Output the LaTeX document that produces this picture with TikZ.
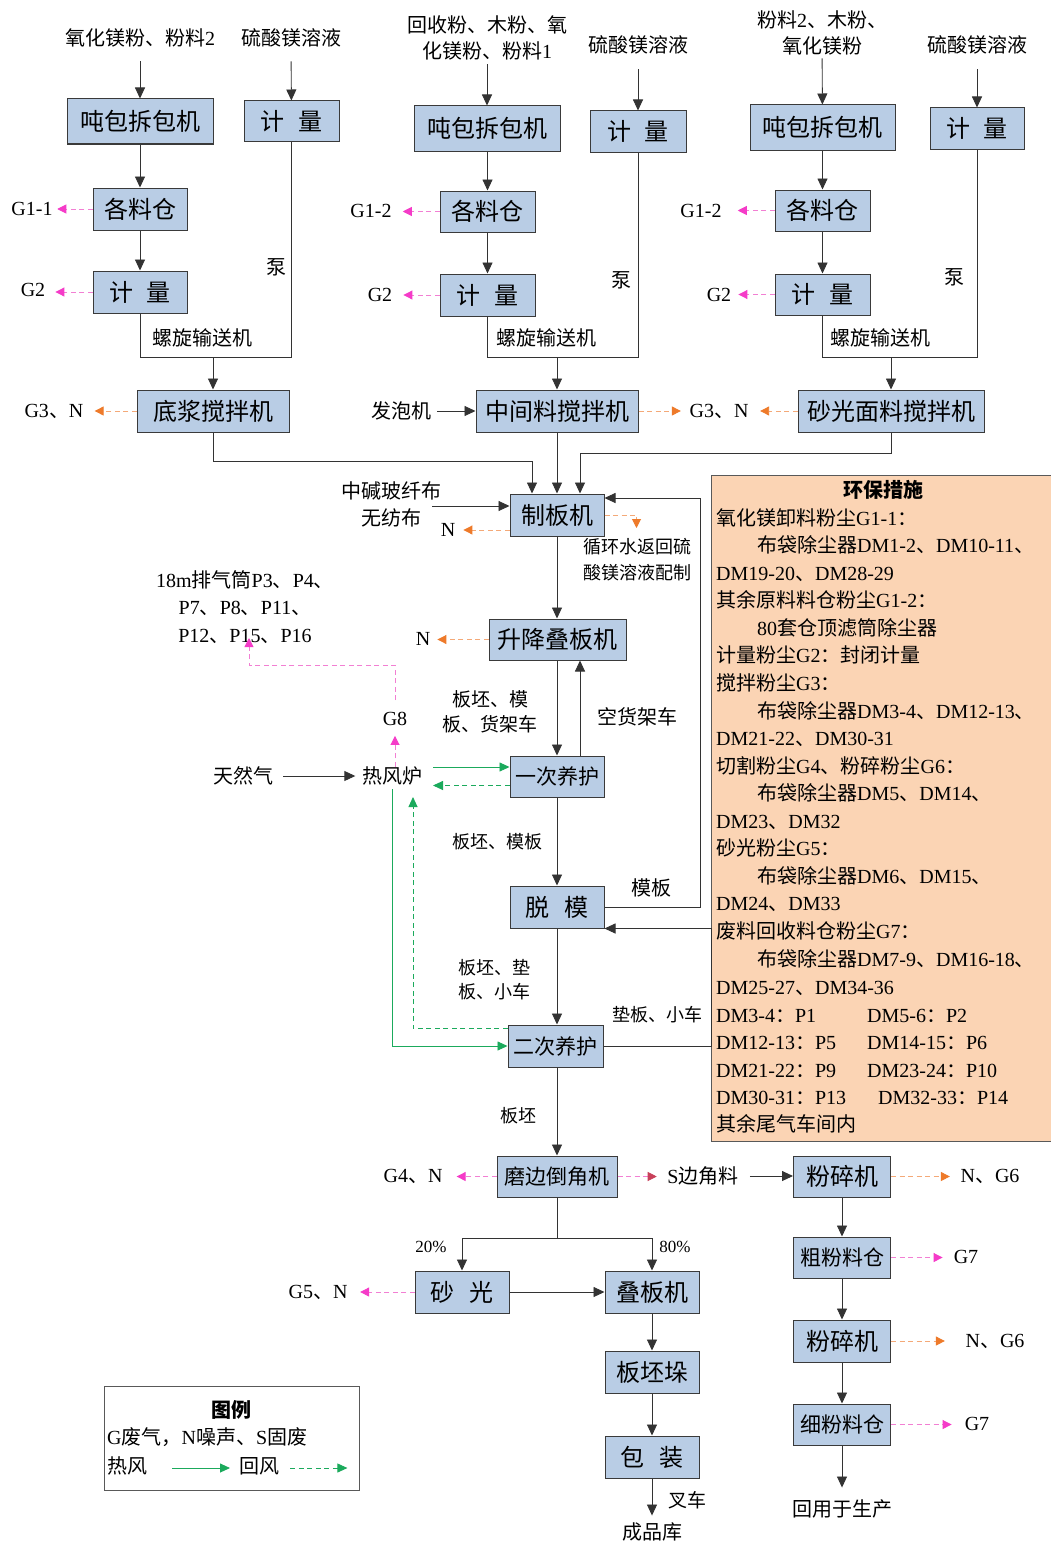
\documentclass[tikz,border=0pt]{standalone}
\usepackage{fontspec}
\setmainfont{Liberation Serif}
\newfontfamily\cjk{Noto Sans CJK SC}
\XeTeXinterchartokenstate=1
\newXeTeXintercharclass\CJKcls
\newcount\cjkn
\def\setcjkrange#1#2{\cjkn=#1\relax\loop\XeTeXcharclass\cjkn=\CJKcls\advance\cjkn by 1\relax\ifnum\cjkn<#2\repeat}
\setcjkrange{"3000}{"3040}
\setcjkrange{"4E00}{"A000}
\setcjkrange{"FF00}{"FFF0}
\XeTeXinterchartoks 0 \CJKcls = {\cjk}
\XeTeXinterchartoks 4095 \CJKcls = {\cjk}
\XeTeXinterchartoks \CJKcls 0 = {\rmfamily}
\XeTeXinterchartoks \CJKcls 4095 = {\rmfamily}
\usetikzlibrary{arrows.meta}
\definecolor{boxfill}{HTML}{B9CDE5}
\definecolor{boxline}{HTML}{3A3A3A}
\definecolor{peach}{HTML}{FBD4B4}
\definecolor{magL}{HTML}{F27FD3}
\definecolor{magH}{HTML}{F53BC8}
\definecolor{orL}{HTML}{F4A978}
\definecolor{orH}{HTML}{EE7A2A}
\definecolor{grn}{HTML}{1BAA5C}
\definecolor{redH}{HTML}{C8405A}
\begin{document}
\begin{tikzpicture}[x=1pt,y=-1pt,
 box/.style={draw=boxline,fill=boxfill,line width=1pt,inner sep=0pt,font=\fontsize{24}{28}\selectfont},
 bs/.style={box,font=\fontsize{21}{25}\selectfont},
 lab/.style={inner sep=0pt,font=\fontsize{20}{26}\selectfont,align=center},
 sl/.style={inner sep=0pt,font=\fontsize{18}{24}\selectfont,align=center},
 pl/.style={anchor=base west,inner sep=0pt,font=\fontsize{20}{24}\selectfont},
 ln/.style={draw=black!80,line width=0.9pt},
 arr/.style={ln,-{Triangle[length=11pt,width=10pt]}},
 mg/.style={draw=magL,line width=0.9pt,dash pattern=on 5pt off 3.5pt,-{Triangle[length=9pt,width=9pt,color=magH]}},
 og/.style={draw=orL,line width=0.9pt,dash pattern=on 5pt off 3.5pt,-{Triangle[length=9pt,width=9pt,color=orH]}},
 rd/.style={draw=magL,line width=0.9pt,dash pattern=on 5pt off 3.5pt,-{Triangle[length=9pt,width=9pt,color=redH]}},
 gs/.style={draw=grn,line width=0.9pt,-{Triangle[length=10pt,width=9pt,color=grn]}},
 gd/.style={gs,dash pattern=on 5pt off 3.5pt},
]
\fill[white] (0,0) rectangle (1051,1544);
\useasboundingbox (0,0) rectangle (1051,1544);

% ---------- right panel ----------
\draw[draw=gray!70!black,line width=1pt,fill=peach] (711,475) rectangle (1060,1141);
\node[lab,font=\bfseries\fontsize{20}{24}\selectfont] (rt) at (883,490) {环保措施};
\node[pl] (r1) at (716,525) {氧化镁卸料粉尘G1-1：};
\node[pl] (r2) at (757,552) {布袋除尘器DM1-2、DM10-11、};
\node[pl] (r3) at (716,580) {DM19-20、DM28-29};
\node[pl] (r4) at (716,607) {其余原料料仓粉尘G1-2：};
\node[pl] (r5) at (757,635) {80套仓顶滤筒除尘器};
\node[pl] (r6) at (716,662) {计量粉尘G2：封闭计量};
\node[pl] (r7) at (716,690) {搅拌粉尘G3：};
\node[pl] (r8) at (757,718) {布袋除尘器DM3-4、DM12-13、};
\node[pl] (r9) at (716,745) {DM21-22、DM30-31};
\node[pl] (r10) at (716,773) {切割粉尘G4、粉碎粉尘G6：};
\node[pl] (r11) at (757,800) {布袋除尘器DM5、DM14、};
\node[pl] (r12) at (716,828) {DM23、DM32};
\node[pl] (r13) at (716,855) {砂光粉尘G5：};
\node[pl] (r14) at (757,883) {布袋除尘器DM6、DM15、};
\node[pl] (r15) at (716,910) {DM24、DM33};
\node[pl] (r16) at (716,938) {废料回收料仓粉尘G7：};
\node[pl] (r17) at (757,966) {布袋除尘器DM7-9、DM16-18、};
\node[pl] (r18) at (716,994) {DM25-27、DM34-36};
\node[pl] (r19) at (716,1022) {DM3-4：P1};
\node[pl] (r19b) at (867,1022) {DM5-6：P2};
\node[pl] (r20) at (716,1049) {DM12-13：P5};
\node[pl] (r20b) at (867,1049) {DM14-15：P6};
\node[pl] (r21) at (716,1077) {DM21-22：P9};
\node[pl] (r21b) at (867,1077) {DM23-24：P10};
\node[pl] (r22) at (716,1104) {DM30-31：P13};
\node[pl] (r22b) at (878,1104) {DM32-33：P14};
\node[pl] (r23) at (716,1131) {其余尾气车间内};

\coordinate (y357) at (0,357);
% ---------- column 1 ----------
\node[lab] (t1) at (140,38) {氧化镁粉、粉料2};
\node[lab] (s1) at (291,38) {硫酸镁溶液};
\node[box,minimum width=146pt,minimum height=45pt] (b1) at (140,121.5) {吨包拆包机};
\node[box,minimum width=95pt,minimum height=41pt] (m1) at (291.5,121.5) {计\hspace{0.55em}量};
\node[box,minimum width=94pt,minimum height=42pt] (c1) at (140,209) {各料仓};
\node[box,minimum width=94pt,minimum height=42pt] (q1) at (140,292) {计\hspace{0.55em}量};
\node[box,minimum width=152pt,minimum height=42pt] (x1) at (213,411) {底浆搅拌机};
\node[lab] (g11) at (32,209) {G1-1};
\node[lab] (g21) at (33,290) {G2};
\node[lab] (g31) at (54,411) {G3、N};
\node[lab] (l1) at (202,338) {螺旋输送机};
\node[lab] (p1) at (276,267) {泵};
\draw[arr,shorten <=14pt] (t1) -- (b1);
\draw[arr,shorten <=14pt] (s1) -- (m1);
\draw[arr] (b1) -- (c1);
\draw[arr] (c1) -- (q1);
\draw[ln] (q1.south) |- (m1.south |- y357) -- (m1.south);
\draw[arr] (x1.north |- y357) -- (x1.north);
\draw[mg,shorten >=4.5pt] (c1.west) -- (c1.west -| g11.east);
\draw[mg,shorten >=10pt] (q1.west) -- (q1.west -| g21.east);
\draw[og,shorten >=11pt] (x1.west) -- (x1.west -| g31.east);

% ---------- column 2 ----------
\node[lab] (t2) at (487,38) {回收粉、木粉、氧\\化镁粉、粉料1};
\node[lab] (s2) at (638,45) {硫酸镁溶液};
\node[box,minimum width=146pt,minimum height=45pt] (b2) at (487,128.5) {吨包拆包机};
\node[box,minimum width=96pt,minimum height=41pt] (m2) at (638,131.5) {计\hspace{0.55em}量};
\node[box,minimum width=95pt,minimum height=41pt] (c2) at (487.5,211.5) {各料仓};
\node[box,minimum width=95pt,minimum height=42pt] (q2) at (487.5,295) {计\hspace{0.55em}量};
\node[box,minimum width=162pt,minimum height=42pt] (x2) at (557,411) {中间料搅拌机};
\node[lab] (g12) at (371,211) {G1-2};
\node[lab] (g22) at (380,295) {G2};
\node[lab] (l2) at (546,338) {螺旋输送机};
\node[lab] (p2) at (621,280) {泵};
\node[lab] (fp) at (401,411) {发泡机};
\node[lab] (g3n) at (719,411) {G3、N};
\draw[arr,shorten <=4pt] (t2) -- (b2);
\draw[arr,shorten <=15pt] (s2) -- (m2);
\draw[arr] (b2.south -| c2.north) -- (c2.north);
\draw[arr] (c2) -- (q2);
\draw[ln] (q2.south) |- (m2.south |- y357) -- (m2.south);
\draw[arr] (x2.north |- y357) -- (x2.north);
\draw[mg,shorten >=11pt] (c2.west) -- (c2.west -| g12.east);
\draw[mg,shorten >=11pt] (q2.west) -- (q2.west -| g22.east);
\draw[arr,shorten <=6pt] (fp) -- (x2);
\draw[og,shorten >=8.5pt] (x2.east) -- (x2.east -| g3n.west);

% ---------- column 3 ----------
\node[lab] (t3) at (822,33) {粉料2、木粉、\\氧化镁粉};
\node[lab] (s3) at (977,45) {硫酸镁溶液};
\node[box,minimum width=145pt,minimum height=45pt] (b3) at (822.5,127.5) {吨包拆包机};
\node[box,minimum width=94pt,minimum height=41pt] (m3) at (977,128.5) {计\hspace{0.55em}量};
\node[box,minimum width=95pt,minimum height=41pt] (c3) at (822.5,210.5) {各料仓};
\node[box,minimum width=95pt,minimum height=41pt] (q3) at (822.5,294.5) {计\hspace{0.55em}量};
\node[box,minimum width=186pt,minimum height=42pt] (x3) at (891,411) {砂光面料搅拌机};
\node[lab] (g13) at (701,211) {G1-2};
\node[lab] (g23) at (719,295) {G2};
\node[lab] (l3) at (880,338) {螺旋输送机};
\node[lab] (p3) at (954,277) {泵};
\draw[arr,shorten <=3pt] (t3) -- (b3);
\draw[arr,shorten <=15pt] (s3) -- (m3);
\draw[arr] (b3) -- (c3);
\draw[arr] (c3) -- (q3);
\draw[ln] (q3.south) |- (m3.south |- y357) -- (m3.south);
\draw[arr] (x3.north |- y357) -- (x3.north);
\draw[mg,shorten >=16pt] (c3.west) -- (c3.west -| g13.east);
\draw[mg,shorten >=7pt] (q3.west) -- (q3.west -| g23.east);
\draw[og,shorten >=11.5pt] (x3.west) -- (x3.west -| g3n.east);

% ---------- board machine ----------
\node[box,minimum width=94pt,minimum height=42pt] (zb) at (557,515) {制板机};
\coordinate (zin1) at ([xshift=-25pt]zb.north);
\coordinate (zin3) at ([xshift=23pt]zb.north);
\coordinate (h461) at (0,461);
\coordinate (h453) at (0,453);
\draw[arr] (x1.south) |- (zin1 |- h461) -- (zin1);
\draw[arr] (x2) -- (zb);
\draw[arr] (x3.south) |- (zin3 |- h453) -- (zin3);
\node[lab,font=\fontsize{20}{27}\selectfont] (fab) at (391,504) {中碱玻纤布\\无纺布};
\coordinate (fabo) at (432,506);
\draw[arr] (fabo) -- (fabo -| zb.west);
\node[lab] (n1) at (448,530) {N};
\coordinate (zbn) at ([yshift=-15pt]zb.west);
\draw[og,shorten >=8pt] (zbn) -- (zbn -| n1.east);
\draw[og] (zb.east) -- ++(32,0) -- ++(0,13);
\node[sl,font=\fontsize{18}{26}\selectfont] (xh) at (637,560) {循环水返回硫\\酸镁溶液配制};

\node[box,minimum width=137pt,minimum height=41pt] (sj) at (557.5,639.5) {升降叠板机};
\draw[arr] (zb.south) -- (zb.south |- sj.north);
\node[lab] (n2) at (423,639) {N};
\draw[og,shorten >=7pt] (sj.west) -- (sj.west -| n2.east);

\node[bs,minimum width=94pt,minimum height=41pt] (yc) at (557,776.5) {一次养护};
\draw[arr] (sj.south -| yc.north) -- (yc.north);
\coordinate (yup) at ([xshift=23pt]yc.north);
\draw[arr] (yup) -- (yup |- sj.south);
\node[lab,font=\fontsize{19}{25}\selectfont] (lb1) at (490,712) {板坯、模\\板、货架车};
\node[lab] (kh) at (637,717) {空货架车};

\node[lab] (rf) at (392.5,776) {热风炉};
\node[lab] (tq) at (243,776) {天然气};
\draw[arr,shorten <=10pt,shorten >=7pt] (tq) -- (rf);
\coordinate (rfo) at (433,767);
\draw[gs] (rfo) -- (rfo -| yc.west);
\coordinate (yci) at ([yshift=-9pt]yc.west);
\draw[gd] (yci) -- (yci -| rfo);
\node[lab] (g8) at (395,719) {G8};
\draw[mg,shorten >=10pt] (rf.north -| g8.south) -- (g8.south);
\node[lab,font=\fontsize{20}{27.5}\selectfont] (pq) at (245,607) {18m排气筒P3、P4、\\P7、P8、P11、\\P12、P15、P16};
\coordinate (pqa) at (249,638);
\coordinate (h665) at (0,665);
\draw[mg] ([yshift=12pt]g8.north) |- (pqa |- h665) -- (pqa);

% ---------- demould ----------
\node[box,minimum width=94pt,minimum height=42pt] (tm) at (557,907) {脱\hspace{0.6em}模};
\draw[arr] (yc) -- (tm);
\node[sl] (lb2) at (497,842) {板坯、模板};
\coordinate (zbr) at ([yshift=17pt]zb.east);
\coordinate (c700) at (700,907);
\draw[arr] (tm.east) -- (c700) |- (zbr);
\node[lab] (mbl) at (651,888) {模板};

\node[bs,minimum width=95pt,minimum height=42pt] (ey) at (555.5,1046) {二次养护};
\draw[arr] (tm.south) -- (tm.south |- ey.north);
\node[sl] (lb3) at (494,980) {板坯、垫\\板、小车};
\coordinate (c711) at (711,1046);
\draw[arr] (ey.east) -- (c711) |- (tm.south east);
\node[sl] (lb4) at (657,1015) {垫板、小车};
\draw[gs] ([yshift=-4pt]rf.south) |- (ey.west);
\coordinate (eyt) at ([yshift=-4pt]ey.north west);
\coordinate (rfd) at (413,797);
\draw[gd] (eyt) -| (rfd);

% ---------- edge machine ----------
\node[bs,minimum width=120pt,minimum height=41pt] (mb) at (557,1176.5) {磨边倒角机};
\draw[arr] (mb.north |- ey.south) -- (mb.north);
\node[sl] (lb5) at (518,1116) {板坯};
\node[lab] (g4) at (413,1176) {G4、N};
\draw[mg,shorten >=14pt] (mb.west) -- (mb.west -| g4.east);
\node[lab] (sb) at (703,1176) {S边角料};
\draw[rd,shorten >=10.5pt] (mb.east) -- (mb.east -| sb.west);
\node[box,minimum width=97pt,minimum height=41pt] (fs1) at (842,1176.5) {粉碎机};
\draw[arr,shorten <=11pt] (sb) -- (sb -| fs1.west);
\coordinate (sp) at (0,1238);
\node[box,minimum width=94pt,minimum height=42pt] (sg) at (462,1292) {砂\hspace{0.6em}光};
\node[box,minimum width=94pt,minimum height=42pt] (db) at (652,1292) {叠板机};
\draw[arr] (mb.south) |- (sg.north |- sp) -- (sg.north);
\draw[arr] (mb.south) |- (db.north |- sp) -- (db.north);
\node[lab,font=\fontsize{17}{20}\selectfont] (p20) at (431,1247) {20\%};
\node[lab,font=\fontsize{17}{20}\selectfont] (p80) at (675,1247) {80\%};
\node[lab] (g5) at (318,1292) {G5、N};
\draw[mg,shorten >=12.5pt] (sg.west) -- (sg.west -| g5.east);
\draw[arr] (sg) -- (db);
\node[box,minimum width=94pt,minimum height=42pt] (bp) at (652,1372) {板坯垛};
\node[box,minimum width=94pt,minimum height=42pt] (bz) at (652,1457) {包\hspace{0.6em}装};
\draw[arr] (db) -- (bp);
\draw[arr] (bp) -- (bz);
\node[lab] (cp) at (652,1532) {成品库};
\draw[arr,shorten >=7pt] (bz) -- (cp);
\node[lab,font=\fontsize{19}{24}\selectfont] (cc) at (687,1500) {叉车};

% ---------- crushing ----------
\node[bs,minimum width=97pt,minimum height=41pt] (cf) at (842,1257.5) {粗粉料仓};
\node[box,minimum width=97pt,minimum height=42pt] (fs2) at (842,1341) {粉碎机};
\node[bs,minimum width=97pt,minimum height=41pt] (xf) at (842,1424.5) {细粉料仓};
\draw[arr] (fs1) -- (cf);
\draw[arr] (cf) -- (fs2);
\draw[arr] (fs2) -- (xf);
\node[lab] (ng1) at (990,1176) {N、G6};
\node[lab] (g71) at (966,1257) {G7};
\node[lab] (ng2) at (995,1341) {N、G6};
\node[lab] (g72) at (977,1424) {G7};
\draw[og,shorten >=10.5pt] (fs1.east) -- (fs1.east -| ng1.west);
\draw[mg,shorten >=11pt] (cf.east) -- (cf.east -| g71.west);
\draw[og,shorten >=20.5pt] (fs2.east) -- (fs2.east -| ng2.west);
\draw[mg,shorten >=13pt] (xf.east) -- (xf.east -| g72.west);
\node[lab] (hy) at (842,1509) {回用于生产};
\draw[arr,shorten >=12pt] (xf) -- (hy);

% ---------- legend ----------
\draw[draw=gray!70!black,line width=1pt] (104,1386) rectangle (359,1490);
\node[lab,font=\bfseries\fontsize{20}{24}\selectfont] (lgt) at (231,1410) {图例};
\node[lab,anchor=west] (lg1) at (107,1437) {G废气，N噪声、S固废};
\node[lab,anchor=west] (lg2) at (107,1466) {热风};
\node[lab,anchor=west] (lg3) at (239,1466) {回风};
\draw[gs] ([xshift=25pt,yshift=-2pt]lg2.east) -- ([xshift=-9pt,yshift=-2pt]lg3.west);
\draw[gd] ([xshift=11pt,yshift=-2pt]lg3.east) -- ++(57,0);
\end{tikzpicture}
\end{document}
